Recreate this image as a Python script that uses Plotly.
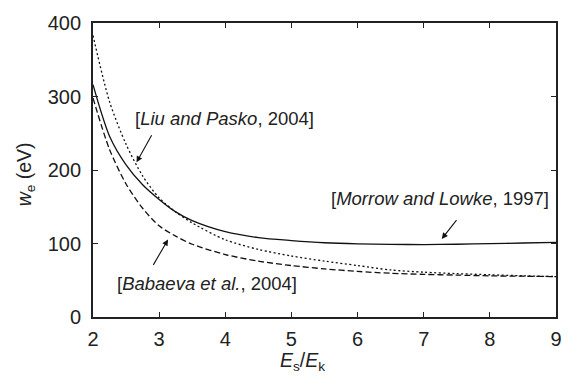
import plotly.graph_objects as go

# E_s/E_k values
ratio = [2, 2.25, 2.5, 2.75, 3, 3.25, 3.5, 4, 4.5, 5, 5.5, 6, 6.5, 7, 7.5, 8, 8.5, 9]

# w_e (eV) for each model
morrow_lowke = [316, 246, 207, 180, 160, 143, 131, 116, 108, 104, 101, 99.5, 98.8, 98.6, 99, 99.8, 100.7, 101.5]
liu_pasko = [383, 293, 235, 192, 162, 143, 128, 105, 92, 83, 76, 70, 64, 61, 59, 57.5, 56, 55]
babaeva = [298, 228, 181, 148, 124, 110, 99, 85, 76, 70, 65.5, 62, 59.5, 58, 57, 56, 55.5, 55]

x_ticks = [2, 3, 4, 5, 6, 7, 8, 9]
y_ticks = [0, 100, 200, 300, 400]

FONT = "Liberation Sans, Arial, sans-serif"
INK = "#222222"

fig = go.Figure()
line_w = 1.3
fig.add_trace(go.Scatter(x=ratio, y=morrow_lowke, mode="lines",
                         line=dict(color="#111", width=line_w, shape="spline", smoothing=0.8),
                         name="Morrow and Lowke, 1997"))
fig.add_trace(go.Scatter(x=ratio, y=liu_pasko, mode="lines",
                         line=dict(color="#111", width=line_w, dash="2px,2.5px", shape="spline", smoothing=0.8),
                         name="Liu and Pasko, 2004"))
fig.add_trace(go.Scatter(x=ratio, y=babaeva, mode="lines",
                         line=dict(color="#111", width=line_w, dash="6px,3px", shape="spline", smoothing=0.8),
                         name="Babaeva et al., 2004"))

axis_common = dict(showline=True, linecolor=INK, linewidth=1.8, mirror="ticks",
                   ticks="inside", ticklen=5, tickwidth=1, tickcolor=INK,
                   showgrid=False, zeroline=False,
                   tickfont=dict(family=FONT, size=20, color=INK))

fig.update_layout(
    width=574, height=381,
    margin=dict(l=93, r=16, t=13, b=64),
    paper_bgcolor="white", plot_bgcolor="white",
    showlegend=False,
    xaxis=dict(range=[2, 9], tickvals=x_ticks, ticklabelstandoff=3, **axis_common),
    yaxis=dict(range=[0, 400], tickvals=y_ticks, ticklabelstandoff=6, **axis_common),
    font=dict(family=FONT, size=18.5, color=INK),
)

# axis titles
fig.add_annotation(x=0.452, y=-0.15, xref="paper", yref="paper",
                   text="<i>E</i><sub>s</sub>/<i>E</i><sub>k</sub>", showarrow=False,
                   xanchor="center", yanchor="middle", font=dict(size=19.5))
fig.add_annotation(x=-0.147, y=0.485, xref="paper", yref="paper",
                   text="<i>w</i><sub>e</sub> (eV)", showarrow=False, textangle=-90,
                   xanchor="center", yanchor="middle", font=dict(size=19.5))

# labels
fig.add_annotation(x=2.602, y=270.7, text="[<i>Liu and Pasko</i>, 2004]", showarrow=False,
                   xanchor="left", yanchor="middle")
fig.add_annotation(x=2.331, y=45.7, text="[<i>Babaeva et al.</i>, 2004]", showarrow=False,
                   xanchor="left", yanchor="middle")
fig.add_annotation(x=8.925, y=161.4, text="[<i>Morrow and Lowke</i>, 1997]", showarrow=False,
                   xanchor="right", yanchor="middle")

# arrows
arrow_style = dict(text="", showarrow=True, arrowhead=2, arrowsize=1.1, arrowwidth=1.1,
                   arrowcolor="#111", axref="x", ayref="y", standoff=0)
fig.add_annotation(x=2.658, y=210.5, ax=2.899, ay=249.2, **arrow_style)
fig.add_annotation(x=3.134, y=105.3, ax=2.899, ay=68.9, **arrow_style)
fig.add_annotation(x=7.273, y=106.2, ax=7.514, ay=133.8, **arrow_style)

fig.write_html("out.html")
